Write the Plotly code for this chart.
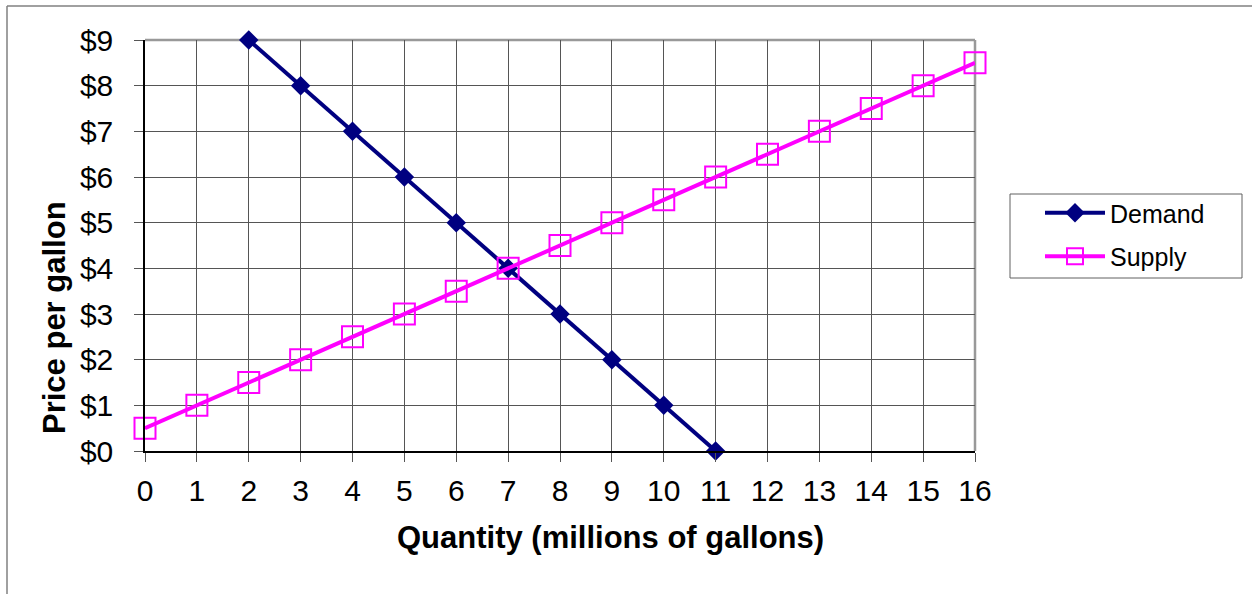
import plotly.graph_objects as go

demand_q = [2, 3, 4, 5, 6, 7, 8, 9, 10, 11]
demand_p = [9, 8, 7, 6, 5, 4, 3, 2, 1, 0]
supply_q = [0, 1, 2, 3, 4, 5, 6, 7, 8, 9, 10, 11, 12, 13, 14, 15, 16]
supply_p = [0.5, 1, 1.5, 2, 2.5, 3, 3.5, 4, 4.5, 5, 5.5, 6, 6.5, 7, 7.5, 8, 8.5]
x_ticks = list(range(0, 17))
y_ticks = list(range(0, 10))
y_labels = ["$" + str(v) for v in y_ticks]
x_title = "Quantity (millions of gallons)"
y_title = "Price per gallon"

W, H = 1252, 594
L, R, T, B = 145, 975, 40, 451
FONT = "Arial, Liberation Sans, sans-serif"

fig = go.Figure()
fig.add_trace(go.Scatter(
    x=demand_q, y=demand_p, name="Demand", mode="lines+markers", legendgroup="d",
    line=dict(color="#000080", width=4),
    marker=dict(symbol="diamond", size=15, color="#000080"),
    cliponaxis=False,
))
fig.add_trace(go.Scatter(
    x=supply_q, y=supply_p, name="Supply", mode="lines+markers", legendgroup="s",
    line=dict(color="#FF00FF", width=4),
    marker=dict(symbol="square-open", size=21, color="#FF00FF", line=dict(width=2, color="#FF00FF")),
    cliponaxis=False,
))

def px(xp):
    return (xp - L) / (R - L)

def py(yp):
    return (B - yp) / (B - T)

shapes = [
    dict(type="line", xref="paper", yref="paper", x0=0, x1=1, y0=1, y1=1,
         line=dict(color="#999999", width=2.5), layer="below"),
    dict(type="line", xref="paper", yref="paper", x0=1, x1=1, y0=0, y1=1,
         line=dict(color="#999999", width=2.5), layer="below"),
    dict(type="line", xref="paper", yref="paper", x0=px(7), x1=px(7), y0=py(6), y1=py(600),
         line=dict(color="#808080", width=1.5)),
    dict(type="line", xref="paper", yref="paper", x0=px(7), x1=px(1260), y0=py(6), y1=py(6),
         line=dict(color="#808080", width=1.5)),
    dict(type="rect", xref="paper", yref="paper", x0=px(1010), x1=px(1242), y0=py(278), y1=py(194),
         line=dict(color="#606060", width=1), fillcolor="rgba(0,0,0,0)"),
]

annotations = [
    dict(text="<b>" + x_title + "</b>", xref="paper", yref="paper", x=px(610), y=py(537),
         xanchor="center", yanchor="middle", showarrow=False,
         font=dict(size=31, family=FONT, color="black")),
    dict(text="<b>" + y_title + "</b>", xref="paper", yref="paper", x=px(54), y=py(318),
         xanchor="center", yanchor="middle", showarrow=False, textangle=-90,
         font=dict(size=31, family=FONT, color="black")),
]

fig.update_layout(
    width=W, height=H,
    margin=dict(l=L, r=W - R, t=T, b=H - B, autoexpand=False),
    paper_bgcolor="white", plot_bgcolor="white",
    font=dict(family=FONT, color="black"),
    showlegend=True,
    legend=dict(
        x=px(1040), y=py(190), xanchor="left", yanchor="top",
        borderwidth=0, bgcolor="rgba(0,0,0,0)",
        font=dict(size=25, family=FONT, color="black"),
        itemwidth=60, tracegroupgap=8,
    ),
    shapes=shapes,
    annotations=annotations,
    xaxis=dict(
        range=[0, 16], tickvals=x_ticks, ticktext=[str(v) for v in x_ticks],
        showgrid=True, gridcolor="#555555", gridwidth=1,
        showline=True, linecolor="black", linewidth=1.5,
        ticks="outside", ticklen=9, tickcolor="#555555", tickwidth=1,
        tickfont=dict(size=30, family=FONT), ticklabelstandoff=3,
        zeroline=False,
    ),
    yaxis=dict(
        range=[0, 9], tickvals=y_ticks, ticktext=y_labels,
        showgrid=True, gridcolor="#555555", gridwidth=1,
        showline=True, linecolor="black", linewidth=1.5,
        ticks="outside", ticklen=9, tickcolor="#555555", tickwidth=1,
        tickfont=dict(size=30, family=FONT), ticklabelstandoff=15,
        zeroline=False,
    ),
)

fig.write_html("out.html", config={"displayModeBar": False},
               post_script="document.body.style.margin='0px';document.body.style.padding='0px';")
